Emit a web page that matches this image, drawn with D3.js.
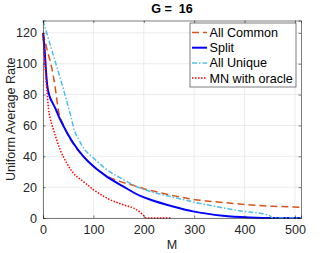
<!DOCTYPE html>
<html>
<head>
<meta charset="utf-8">
<script src="https://cdn.jsdelivr.net/npm/d3@7"></script>
<style>
  body { margin: 0; background: #fff; }
  text { font-family: "Liberation Sans", Arial, Helvetica, sans-serif; }
</style>
</head>
<body>
<div id="chart"></div>
<script>
var xTicks = [0, 100, 200, 300, 400, 500];
var yTicks = [0, 20, 40, 60, 80, 100, 120];

var commonM = [0, 9, 14, 20, 24, 31, 40, 50, 60, 70, 80, 100, 125, 150, 175, 200, 225, 258, 290, 324, 360, 390, 420, 456, 490, 512];
var commonR = [120, 108, 102, 93, 85, 69, 60.5, 53.5, 48, 43.5, 40, 33.5, 27.5, 24, 21.5, 19, 17, 14.5, 12.5, 11, 10, 9.1, 8.3, 7.6, 7.2, 7];

var splitM = [0, 3, 6, 8, 14, 20, 26, 31, 41, 50, 60, 80, 100, 126, 159, 192, 212, 258, 298, 357, 410, 456, 512];
var splitR = [120, 110, 95, 87, 78, 74, 70, 66, 59.4, 54, 48.6, 40, 33.5, 27, 20.5, 14.5, 12, 7.5, 4.3, 1.5, 0.4, 0, 0];

var uniqueM = [0, 20, 40, 56, 62, 70, 80, 100, 126, 159, 192, 212, 258, 324, 390, 449, 456, 512];
var uniqueR = [128, 106, 84, 65, 57, 51.5, 45.5, 39, 31.5, 25, 19.5, 17.3, 13.5, 8.6, 4.7, 1.7, 0, 0];

var oracleM = [0, 4, 8, 12, 14, 21, 34, 47, 60, 80, 100, 126, 159, 179, 192, 200, 205, 255];
var oracleR = [120, 100, 82, 68, 65, 57, 44.3, 35.7, 29.2, 23.7, 18.4, 13, 8.6, 6.5, 4, 1.5, 0, 0];

var seriesNames = ["All Common", "Split", "All Unique", "MN with oracle"];

var series = [
  {name: seriesNames[0], m: commonM, r: commonR, color: "#D95319", width: 1.5, dash: "7,4"},
  {name: seriesNames[1], m: splitM, r: splitR, color: "#0000FF", width: 2, dash: null},
  {name: seriesNames[2], m: uniqueM, r: uniqueR, color: "#4DBEEE", width: 1.5, dash: "5,2,1.5,2"},
  {name: seriesNames[3], m: oracleM, r: oracleR, color: "#FF0000", width: 1.5, dash: "1.5,1.5"}
];

var W = 332, H = 253;
var margin = {top: 20.5, right: 31, bottom: 35, left: 43};
var width = W - margin.left - margin.right,
    height = H - margin.top - margin.bottom;
var fs = "12.6px";

var svg = d3.select("#chart").append("svg")
    .attr("width", W)
    .attr("height", H);

var g = svg.append("g").attr("transform", "translate(" + margin.left + "," + margin.top + ")");

var x = d3.scaleLinear().domain([0, 512]).range([0, width]);
var y = d3.scaleLinear().domain([0, 128]).range([height, 0]);

// grid
g.selectAll(".gx").data(xTicks).enter().append("line")
    .attr("x1", function(d) { return x(d); }).attr("x2", function(d) { return x(d); })
    .attr("y1", 0).attr("y2", height)
    .style("stroke", "#e6e6e6").style("stroke-width", 0.8);
g.selectAll(".gy").data(yTicks).enter().append("line")
    .attr("y1", function(d) { return y(d); }).attr("y2", function(d) { return y(d); })
    .attr("x1", 0).attr("x2", width)
    .style("stroke", "#e6e6e6").style("stroke-width", 0.8);

// lines
var line = d3.line()
    .x(function(d) { return x(d[0]); })
    .y(function(d) { return y(d[1]); })
    .curve(d3.curveMonotoneX);

series.forEach(function(s) {
  var pts = s.m.map(function(v, i) { return [v, s.r[i]]; });
  g.append("path")
      .datum(pts)
      .attr("d", line)
      .style("fill", "none")
      .style("stroke", s.color)
      .style("stroke-width", s.width)
      .style("stroke-dasharray", s.dash);
});

// axes, ticks pointing inward
var xAxis = g.append("g").attr("transform", "translate(0," + height + ")")
    .call(d3.axisBottom(x).tickValues(xTicks).tickSize(-2.5).tickPadding(7));
var yAxis = g.append("g")
    .call(d3.axisLeft(y).tickValues(yTicks).tickSize(-2.5).tickPadding(6));
var xTop = g.append("g")
    .call(d3.axisTop(x).tickValues(xTicks).tickSize(-2.5).tickFormat(""));
var yRight = g.append("g").attr("transform", "translate(" + width + ",0)")
    .call(d3.axisRight(y).tickValues(yTicks).tickSize(-2.5).tickFormat(""));

[xAxis, yAxis, xTop, yRight].forEach(function(a) {
  a.selectAll("path, line").style("stroke", "#262626").style("stroke-width", 0.6);
  a.selectAll("text").style("fill", "#262626").style("font-size", fs)
      .style("font-family", "'Liberation Sans', Arial, sans-serif");
});

// title and labels
svg.append("text")
    .attr("x", margin.left + width / 2)
    .attr("y", 13)
    .attr("text-anchor", "middle")
    .style("font-weight", "bold")
    .style("font-size", fs)
    .style("white-space", "pre")
    .style("fill", "#000")
    .text("G =  16");

svg.append("text")
    .attr("x", margin.left + width / 2)
    .attr("y", 249)
    .attr("text-anchor", "middle")
    .style("font-size", fs)
    .style("fill", "#262626")
    .text("M");

svg.append("text")
    .attr("transform", "translate(15," + (margin.top + height / 2) + ") rotate(-90)")
    .attr("text-anchor", "middle")
    .style("font-size", fs)
    .style("fill", "#262626")
    .text("Uniform Average Rate");

// legend
var lg = svg.append("g").attr("transform", "translate(190,23)");
lg.append("rect")
    .attr("width", 106).attr("height", 64)
    .style("fill", "#fff")
    .style("stroke", "#262626")
    .style("stroke-width", 0.6);

var rows = lg.selectAll(".row").data(series).enter().append("g")
    .attr("transform", function(d, i) { return "translate(0," + (9.5 + i * 15.2) + ")"; });
rows.append("line")
    .attr("x1", 2).attr("x2", 17)
    .style("stroke", function(d) { return d.color; })
    .style("stroke-width", function(d) { return d.width; })
    .style("stroke-dasharray", function(d) { return d.dash; });
rows.append("text")
    .attr("x", 19.5).attr("y", 4.4)
    .style("font-size", fs)
    .style("fill", "#000")
    .text(function(d) { return d.name; });
</script>
</body>
</html>
